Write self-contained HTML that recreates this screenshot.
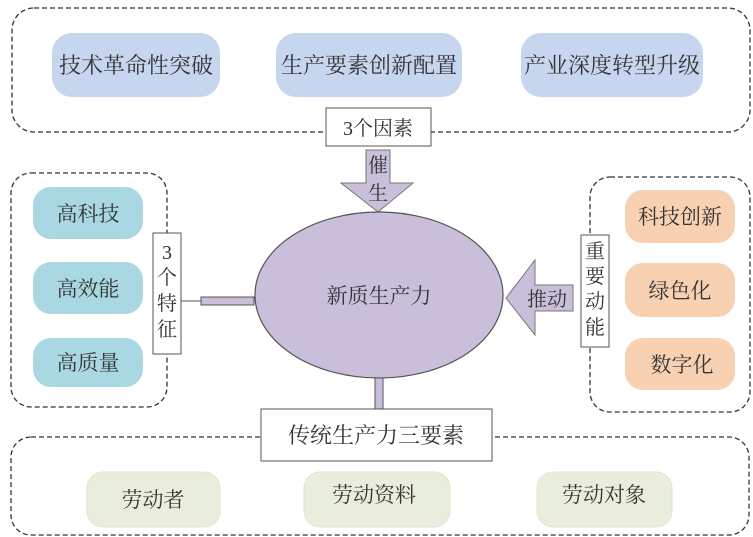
<!DOCTYPE html>
<html><head><meta charset="utf-8"><style>
html,body{margin:0;padding:0;background:#fff;}
svg{display:block;}
text{font-family:"Liberation Serif","Noto Serif CJK SC",serif;fill:#333;}
</style></head><body>
<svg width="753" height="537" viewBox="0 0 753 537" xmlns="http://www.w3.org/2000/svg">
<g fill="none" stroke="#333" stroke-width="1.3" stroke-dasharray="5,3">
<rect x="12" y="8" width="738" height="124" rx="22"/>
<rect x="11" y="173" width="156" height="234" rx="20"/>
<rect x="590" y="177" width="160" height="235" rx="20"/>
<rect x="11" y="437" width="738" height="98" rx="20"/>
</g>
<g fill="#c6d6ef">
<rect x="52" y="33" width="168" height="64" rx="20"/>
<rect x="276" y="33" width="186" height="64" rx="20"/>
<rect x="521" y="33" width="182" height="64" rx="20"/>
</g>
<g font-size="22" text-anchor="middle">
<text x="136" y="73">技术革命性突破</text>
<text x="369" y="73">生产要素创新配置</text>
<text x="612" y="73">产业深度转型升级</text>
</g>
<g fill="#a9d8e3">
<rect x="33" y="187" width="110" height="52" rx="18"/>
<rect x="33" y="262" width="110" height="52" rx="18"/>
<rect x="33" y="338" width="110" height="49" rx="18"/>
</g>
<g fill="#f8d0b2">
<rect x="625" y="190" width="110" height="53" rx="18"/>
<rect x="625" y="263" width="110" height="54" rx="18"/>
<rect x="625" y="338" width="110" height="52" rx="18"/>
</g>
<g fill="#e8eedb" stroke="#e0e6d0">
<rect x="87" y="472" width="133" height="55" rx="16"/>
<rect x="304" y="472" width="146" height="55" rx="16"/>
<rect x="537" y="472" width="135" height="55" rx="16"/>
</g>
<g font-size="21" text-anchor="middle">
<text x="88" y="221">高科技</text>
<text x="88" y="296">高效能</text>
<text x="88" y="370">高质量</text>
<text x="680" y="224">科技创新</text>
<text x="680" y="298">绿色化</text>
<text x="682" y="372">数字化</text>
<text x="153" y="507">劳动者</text>
<text x="374" y="502">劳动资料</text>
<text x="604" y="502">劳动对象</text>
</g>
<polygon points="366,150 390,150 390,183 413,183 378,212 341,183 366,183" fill="#c9bfdb" stroke="#777"/>
<text x="378" y="172" font-size="20" text-anchor="middle">催</text>
<text x="378" y="200" font-size="20" text-anchor="middle">生</text>
<ellipse cx="379" cy="295" rx="124" ry="83" fill="#c9bfdb" stroke="#555" stroke-width="1.2"/>
<text x="379" y="303" font-size="21" text-anchor="middle">新质生产力</text>
<line x1="181" y1="301" x2="201" y2="301" stroke="#555"/>
<rect x="201" y="297" width="53" height="8" fill="#c9bfdb" stroke="#555"/>
<rect x="375" y="378" width="8" height="32" fill="#c9bfdb" stroke="#555"/>
<polygon points="506,298 535,260 535,285 573,285 573,311 535,311 535,335" fill="#c9bfdb" stroke="#777"/>
<text x="547" y="306" font-size="20" text-anchor="middle">推动</text>
<rect x="326" y="108" width="105" height="38" fill="#fff" stroke="#555"/>
<text x="378" y="135" font-size="20" text-anchor="middle">3个因素</text>
<rect x="153" y="233" width="28" height="121" fill="#fff" stroke="#555"/>
<g font-size="20" text-anchor="middle">
<text x="167" y="259">3</text>
<text x="167" y="284">个</text>
<text x="167" y="310">特</text>
<text x="167" y="336">征</text>
</g>
<rect x="581" y="235" width="28" height="112" fill="#fff" stroke="#555"/>
<g font-size="20" text-anchor="middle">
<text x="595" y="258">重</text>
<text x="595" y="283">要</text>
<text x="595" y="308">动</text>
<text x="595" y="334">能</text>
</g>
<rect x="261" y="409" width="231" height="52" fill="#fff" stroke="#555"/>
<text x="376" y="443" font-size="22" text-anchor="middle">传统生产力三要素</text>
</svg>
</body></html>
